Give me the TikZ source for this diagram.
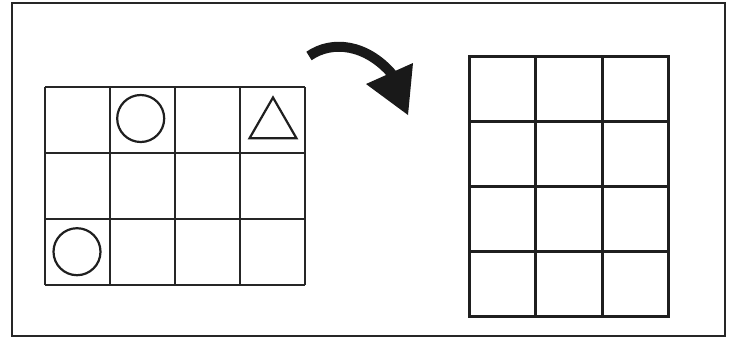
\documentclass[tikz,border=0pt]{standalone}
\begin{document}
\begin{tikzpicture}[x=1pt,y=-1pt,
  frame/.style={draw=black!85,line width=1.3pt},
  thingrid/.style={draw=black!85,line width=1.3pt},
  thickgrid/.style={draw=black!88,line width=3pt},
  shapeline/.style={draw=black!88,line width=2.2pt}]
\useasboundingbox (0,0) rectangle (736,338);
% outer frame
\draw[frame] (12,3) rectangle (725,336);
% left grid 4x3
\foreach \x in {45,110,175,240,305} \draw[thingrid] (\x,87) -- (\x,285);
\foreach \y in {87,153,219,285} \draw[thingrid] (45,\y) -- (305,\y);
% shapes
\draw[shapeline] (140.7,118.5) circle (23.5);
\draw[shapeline] (77,251.7) circle (23.5);
\draw[shapeline,line join=miter] (273,97.5) -- (249.5,138.3) -- (296.5,138.3) -- cycle;
% right grid 3x4
\foreach \x in {469,535.5,602,668} \draw[thickgrid,line cap=rect] (\x,56) -- (\x,316);
\foreach \y in {56,121,186,251,316} \draw[thickgrid,line cap=rect] (469,\y) -- (668,\y);
% curved arrow
\draw[black!90,line width=10pt] (309,56) .. controls (332,40) and (366,44) .. (392,74);
\fill[black!90] (366,84) -- (413,63) -- (408,115) -- cycle;
\end{tikzpicture}
\end{document}
